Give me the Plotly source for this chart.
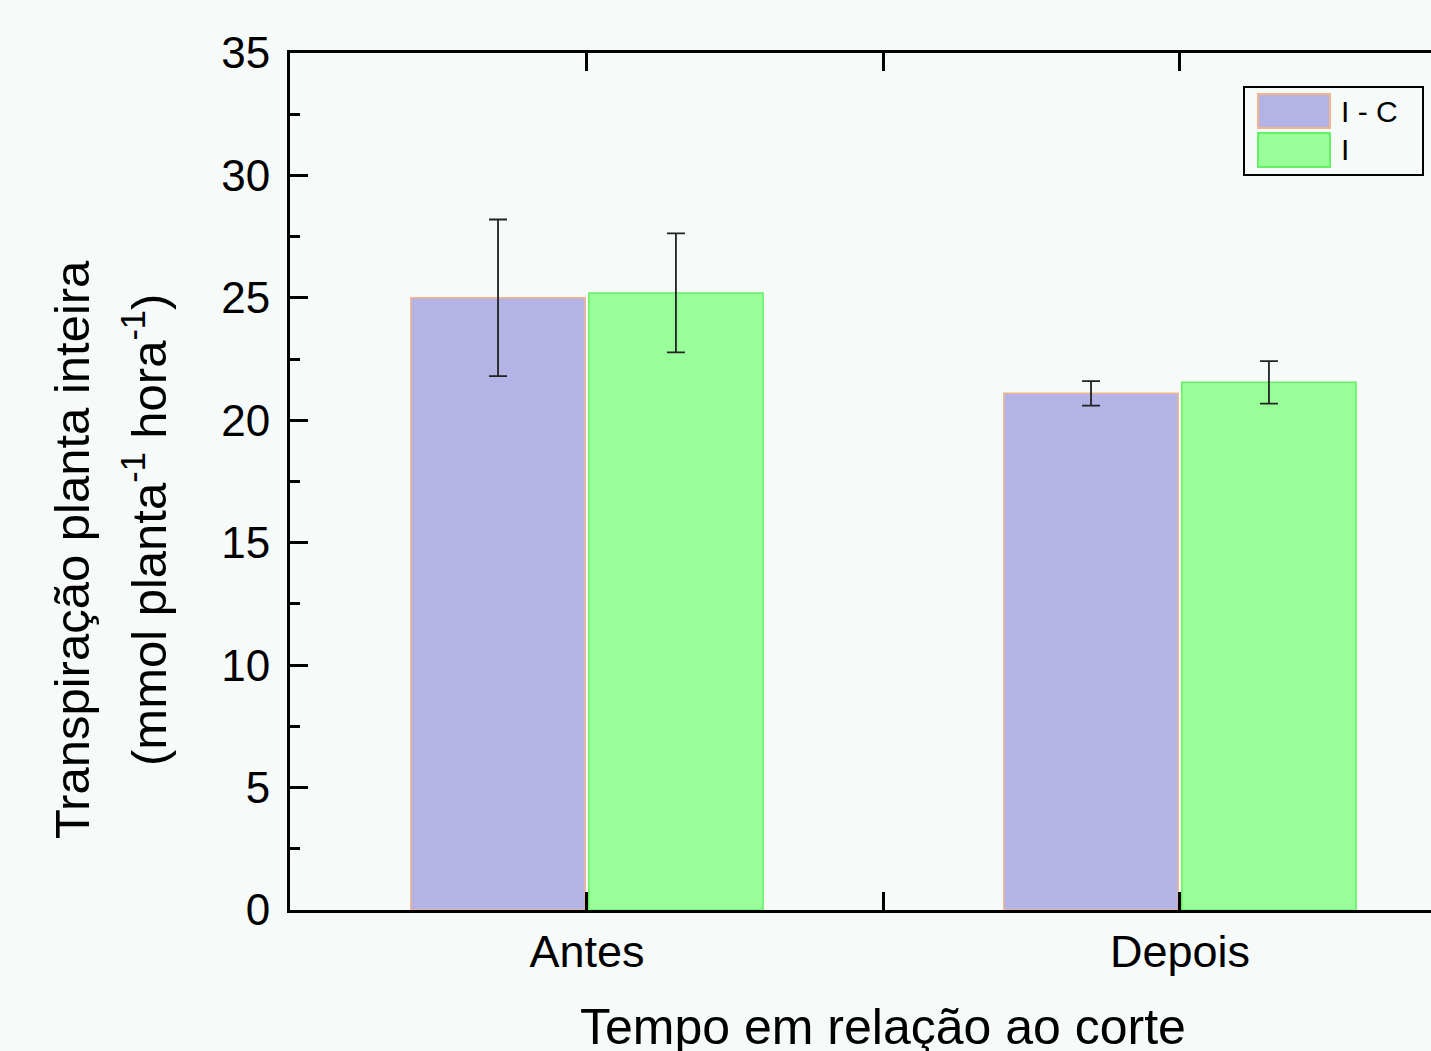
import plotly.graph_objects as go

categories = ["Antes", "Depois"]
series_names = ["I - C", "I"]
values_ic = [25.0, 21.1]
errors_ic = [3.2, 0.5]
values_i = [25.2, 21.55]
errors_i = [2.43, 0.87]

fill_colors = ["#b3b3e6", "#99ff99"]
line_colors = ["#f2b48c", "#66f066"]

W, H = 1431, 1051
L, R, T, B = 290, 0, 53, 141
PW, PH = W - L - R, H - T - B

def px(xp):
    return (xp - L) / PW

def py(yp):
    return (H - B - yp) / PH

xpos = list(range(len(categories)))

fig = go.Figure()
for name, vals, errs, fc, lc in [
    (series_names[0], values_ic, errors_ic, fill_colors[0], line_colors[0]),
    (series_names[1], values_i, errors_i, fill_colors[1], line_colors[1]),
]:
    fig.add_trace(go.Bar(
        x=xpos, y=vals, name=name,
        marker=dict(color=fc, line=dict(color=lc, width=1.5)),
        error_y=dict(type="data", array=errs, visible=True,
                     color="#222222", thickness=1.8, width=9),
        showlegend=False,
    ))

font_family = "Liberation Sans, Arial, sans-serif"

fig.update_layout(
    width=W, height=H,
    margin=dict(l=L, r=R, t=T, b=B, pad=0),
    paper_bgcolor="#f6faf9",
    plot_bgcolor="#f6faf9",
    barmode="group",
    bargap=0.4,
    bargroupgap=0.02,
    font=dict(family=font_family, color="black"),
    xaxis=dict(
        range=[-0.5008, 1.4233],
        tickmode="array", tickvals=xpos, ticktext=categories,
        ticks="inside", ticklen=18, tickwidth=3, tickcolor="black",
        minor=dict(tickmode="linear", tick0=0, dtick=0.5, ticks="inside",
                   ticklen=18, tickwidth=3, tickcolor="black"),
        showline=True, linewidth=3, linecolor="black", mirror="ticks",
        showgrid=False, zeroline=False,
        tickfont=dict(size=45, family=font_family),
        ticklabelstandoff=0,
    ),
    yaxis=dict(
        range=[0, 35], dtick=5, tick0=0,
        ticks="inside", ticklen=18, tickwidth=3, tickcolor="black",
        minor=dict(dtick=2.5, ticks="inside", ticklen=10, tickwidth=3,
                   tickcolor="black"),
        showline=True, linewidth=3, linecolor="black",
        showgrid=False, zeroline=False,
        tickfont=dict(size=44, family=font_family),
        ticklabelstandoff=8,
    ),
)

# axis titles
fig.add_annotation(
    text="Tempo em relação ao corte", xref="paper", yref="paper",
    x=px(883), y=py(997), xanchor="center", yanchor="top",
    showarrow=False, font=dict(size=50, family=font_family, color="black"),
)
fig.add_annotation(
    text="Transpiração planta inteira", xref="paper", yref="paper",
    x=px(72), y=py(550), xanchor="center", yanchor="middle", textangle=-90,
    showarrow=False, font=dict(size=49, family=font_family, color="black"),
)
fig.add_annotation(
    text="(mmol planta<sup>-1</sup> hora<sup>-1</sup>)", xref="paper", yref="paper",
    x=px(145), y=py(530), xanchor="center", yanchor="middle", textangle=-90,
    showarrow=False, font=dict(size=49, family=font_family, color="black"),
)

# custom legend
fig.add_shape(type="rect", xref="paper", yref="paper",
              x0=px(1244), x1=px(1423), y0=py(175), y1=py(87),
              line=dict(color="black", width=2), fillcolor="rgba(0,0,0,0)")
sw_rows = [(94, 128), (133, 167)]
for i, name in enumerate(series_names):
    y0p, y1p = sw_rows[i]
    fig.add_shape(type="rect", xref="paper", yref="paper",
                  x0=px(1258), x1=px(1330), y0=py(y1p), y1=py(y0p),
                  line=dict(color=line_colors[i], width=2),
                  fillcolor=fill_colors[i])
    fig.add_annotation(text=name, xref="paper", yref="paper",
                       x=px(1339), y=py((y0p + y1p) / 2),
                       xanchor="left", yanchor="middle", showarrow=False,
                       font=dict(size=30, family=font_family, color="black"))

fig.write_html(
    "out.html",
    config={"displayModeBar": False},
    post_script="document.body.style.margin='0';document.body.style.padding='0';"
                "document.documentElement.style.overflow='hidden';",
)
